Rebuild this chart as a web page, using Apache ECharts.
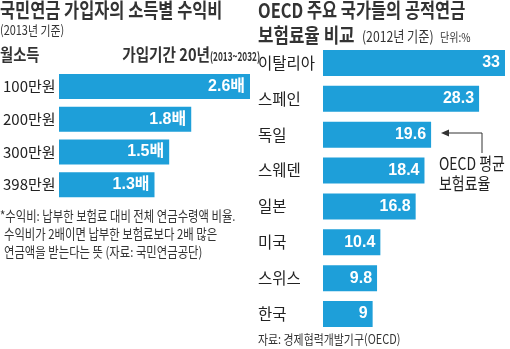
<!DOCTYPE html>
<html><head><meta charset="utf-8">
<script src="https://cdn.jsdelivr.net/npm/echarts@6/dist/echarts.min.js"></script>
<style>html,body{margin:0;padding:0;background:#fff}#c{width:510px;height:349px}</style>
</head><body><div id="c"></div>
<script>
// Left chart: 국민연금 가입자의 소득별 수익비
const incomeCategories = ['100만원', '200만원', '300만원', '398만원'];
const benefitRatio = [2.6, 1.8, 1.5, 1.3];
// Right chart: OECD 주요 국가들의 공적연금 보험료율
const countries = ['이탈리아', '스페인', '독일', '스웨덴', '일본', '미국', '스위스', '한국'];
const contributionRate = [33, 28.3, 19.6, 18.4, 16.8, 10.4, 9.8, 9];

const BLUE = '#1e9fd9';
const CJK = "'Noto Sans CJK KR'";
const NARROW = "'Liberation Sans','Noto Sans CJK KR'";

function txt(x, y, text, size, opts) {
  opts = opts || {};
  return {
    type: 'text', x: x, y: y, scaleX: opts.sx || 0.84,
    style: {
      text: text, fill: opts.fill || '#2a2a2a',
      font: (opts.weight || 'normal') + ' ' + size + 'px ' + (opts.family || CJK),
      align: opts.align || 'left', verticalAlign: 'top'
    }
  };
}

const chart = echarts.init(document.getElementById('c'), null, {renderer: 'canvas'});
chart.setOption({
  animation: false,
  backgroundColor: '#fff',
  grid: [
    {left: 56, top: 70, width: 194, height: 131},
    {left: 323, top: 45, width: 182, height: 287}
  ],
  xAxis: [
    {gridIndex: 0, type: 'value', min: 0, max: 2.6, show: false},
    {gridIndex: 1, type: 'value', min: 0, max: 33, show: false}
  ],
  yAxis: [
    {gridIndex: 0, type: 'category', data: incomeCategories, inverse: true,
     axisLine: {show: false}, axisTick: {show: false},
     axisLabel: {align: 'left', margin: 56, color: '#222', fontSize: 15, fontFamily: CJK}},
    {gridIndex: 1, type: 'category', data: countries, inverse: true,
     axisLine: {show: false}, axisTick: {show: false},
     axisLabel: {align: 'left', margin: 65, color: '#222', fontSize: 15.5, fontFamily: CJK}}
  ],
  series: [
    {type: 'bar', xAxisIndex: 0, yAxisIndex: 0, data: benefitRatio, barWidth: 25,
     itemStyle: {color: BLUE},
     label: {show: true, position: 'insideRight', distance: 5, formatter: '{c}배',
             color: '#fff', fontWeight: 'bold', fontSize: 16, fontFamily: NARROW}},
    {type: 'bar', xAxisIndex: 1, yAxisIndex: 1, data: contributionRate, barWidth: 26,
     itemStyle: {color: BLUE},
     label: {show: true, position: 'insideRight', distance: 5, formatter: '{c}',
             color: '#fff', fontWeight: 'bold', fontSize: 16, fontFamily: NARROW}}
  ],
  graphic: [
    txt(0, 0, '국민연금 가입자의 소득별 수익비', 20, {weight: 'bold', fill: '#333', sx: 0.82}),
    txt(0, 24, '(2013년 기준)', 13, {fill: '#333'}),
    txt(0, 46, '월소득', 17, {weight: 'bold', fill: '#333'}),
    txt(210, 46, '가입기간 20년', 17, {weight: 'bold', fill: '#333', align: 'right', sx: 0.86}),
    txt(210, 50, '(2013~2032)', 12.5, {weight: 'bold', fill: '#333', sx: 0.66}),
    txt(0, 209, '*수익비: 납부한 보험료 대비 전체 연금수령액 비율.', 13.5, {fill: '#333'}),
    txt(4, 227, '수익비가 2배이면 납부한 보험료보다 2배 많은', 13.5, {fill: '#333'}),
    txt(4, 245, '연금액을 받는다는 뜻 (자료: 국민연금공단)', 13.5, {fill: '#333'}),

    txt(258, 0, 'OECD 주요 국가들의 공적연금', 20, {weight: 'bold', fill: '#333', sx: 0.82}),
    txt(258, 25, '보험료율 비교', 20, {weight: 'bold', fill: '#333', sx: 0.84}),
    txt(362, 29, '(2012년 기준)', 14.5, {fill: '#333', sx: 0.84}),
    txt(440, 31, '단위:%', 12, {fill: '#333', sx: 0.84}),
    txt(258, 333, '자료: 경제협력개발기구(OECD)', 13, {fill: '#333'}),

    txt(439, 155, 'OECD 평균', 17, {fill: '#222', sx: 0.82}),
    txt(439, 175, '보험료율', 17, {fill: '#222', sx: 0.82}),
    {type: 'polyline', shape: {points: [[482, 153], [482, 133], [446, 133]]},
     style: {stroke: '#333', lineWidth: 1, fill: null}},
    {type: 'polygon', shape: {points: [[441, 133], [449, 129.5], [449, 136.5]]},
     style: {fill: '#333'}}
  ]
});
</script></body></html>
